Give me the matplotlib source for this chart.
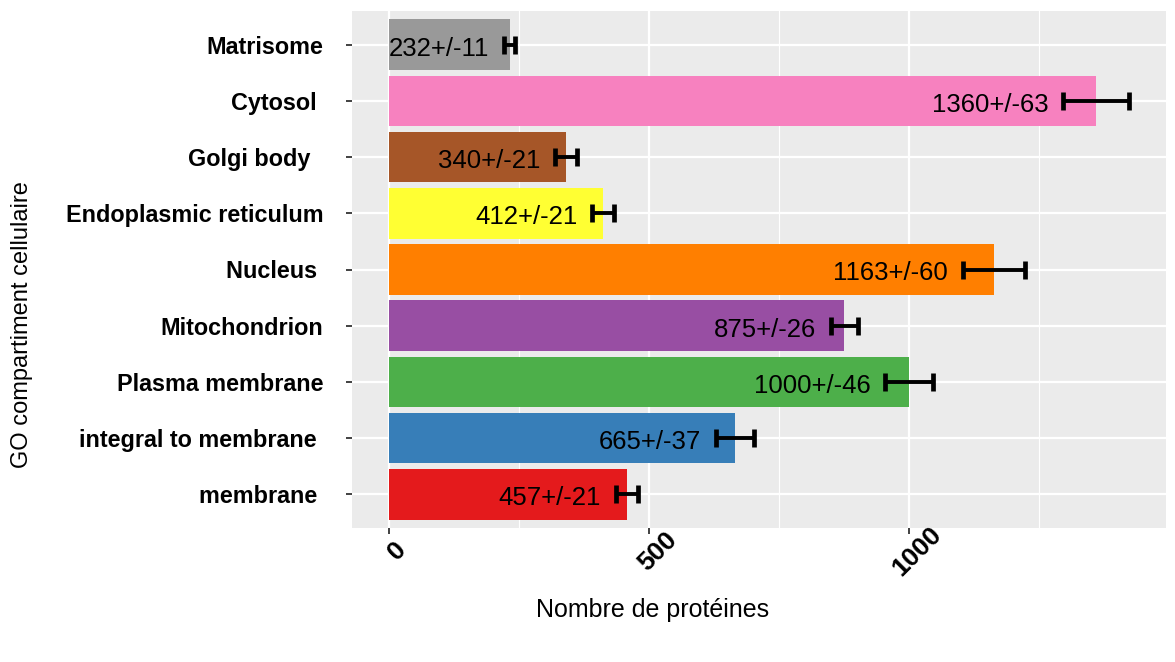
import matplotlib
matplotlib.use("Agg")
import matplotlib.pyplot as plt
from matplotlib.ticker import MultipleLocator

plt.rcParams['font.family'] = ['Liberation Sans', 'DejaVu Sans']

# Data (bottom to top)
categories = ["membrane ", "integral to membrane ", "Plasma membrane", "Mitochondrion",
              "Nucleus ", "Endoplasmic reticulum", "Golgi body  ", "Cytosol ", "Matrisome"]
values = [457, 665, 1000, 875, 1163, 412, 340, 1360, 232]
errors = [21, 37, 46, 26, 60, 21, 21, 63, 11]
colors = ["#E41A1C", "#377EB8", "#4DAF4A", "#984EA3", "#FF7F00",
          "#FFFF33", "#A65628", "#F781BF", "#999999"]
labels = [f"{v}+/-{e}" for v, e in zip(values, errors)]
xticks = [0, 500, 1000]

fig = plt.figure(figsize=(11.75, 6.62), dpi=100)
ax = fig.add_axes([352/1175, 1 - 528/662, (1166-352)/1175, (528-11)/662])
ax.set_facecolor("#EBEBEB")

ypos = list(range(len(categories)))
ax.barh(ypos, values, height=0.9, color=colors, edgecolor='none', zorder=2)
ax.errorbar(values, ypos, xerr=errors, fmt='none', ecolor='black',
            elinewidth=2.8, capsize=6.5, capthick=3.4, zorder=3)

for y, v, e, lab in zip(ypos, values, errors, labels):
    ax.text(v - e - 28, y - 0.07, lab, ha='right', va='center',
            fontsize=18.5, color='black', zorder=4)

top = max(v + e for v, e in zip(values, errors))
ax.set_xlim(-0.05 * top, top * 1.05)
ax.set_ylim(-0.6, len(categories) - 0.4)

ax.set_xticks(xticks)
ax.xaxis.set_minor_locator(MultipleLocator(250))
ax.set_yticks(ypos)
ax.set_yticklabels(categories, fontsize=16.8, fontweight='bold')
ax.set_xticklabels([str(t) for t in xticks], fontsize=19, fontweight='bold',
                   rotation=45, ha='center', va='top', rotation_mode='anchor')
ax.tick_params(axis='x', which='major', length=4.5, width=1.3, color='#333333', pad=6)
ax.tick_params(axis='x', which='minor', length=0)
ax.tick_params(axis='y', length=4.5, width=1.3, color='#333333', pad=16)

ax.grid(True, which='major', color='white', linewidth=1.6, zorder=0)
ax.grid(True, which='minor', axis='x', color='white', linewidth=0.8, zorder=0)
ax.set_axisbelow(True)
for s in ax.spines.values():
    s.set_visible(False)

fig.text(653/1175, 1 - 610/662, "Nombre de protéines", ha='center', va='center', fontsize=18)
fig.text(22/1175, 1 - 325/662, "GO compartiment cellulaire", ha='center', va='center',
         rotation=90, fontsize=17)

fig.savefig("out.png", dpi=100)
